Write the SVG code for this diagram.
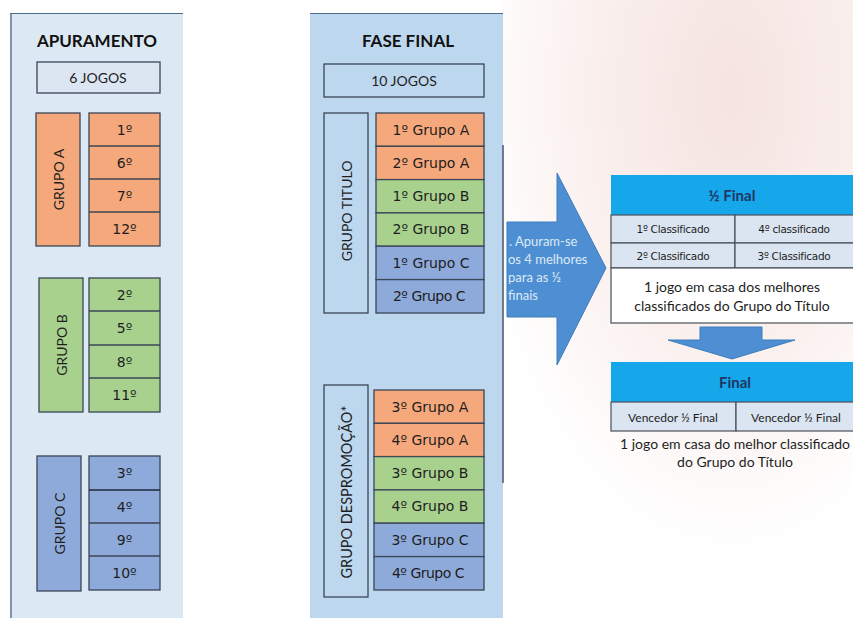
<svg xmlns="http://www.w3.org/2000/svg" width="853" height="618" viewBox="0 0 853 618">
<defs>
<radialGradient id="bgPink" cx="0.65" cy="0.15" r="0.75">
<stop offset="0" stop-color="#f5e3e0"/>
<stop offset="0.55" stop-color="#faf0ee"/>
<stop offset="1" stop-color="#ffffff"/>
</radialGradient>
<style>
.lbl{font-family:Lato,"Liberation Sans",sans-serif;fill:#1e1e1e;text-anchor:middle;dominant-baseline:central}
.ord{font-family:"DejaVu Sans","Liberation Sans",sans-serif;fill:#1e1e1e;text-anchor:middle;dominant-baseline:central}
.dv{font-family:"DejaVu Sans","Liberation Sans",sans-serif;fill:#1e1e1e;text-anchor:middle;dominant-baseline:central;font-size:14px}
.box{stroke:#3b4656;stroke-width:1.3}
.or{fill:#f5a87b}
.gr{fill:#a9d18e}
.bl{fill:#8eaadb}
.pale{fill:#dce6f2;stroke:#3b4656;stroke-width:1.3}
.hdr{fill:#16a6ea}
.row{fill:#dbe5f1;stroke:#4a4f58;stroke-width:1.2}
.ttl{font-family:Lato,"Liberation Sans",sans-serif;font-weight:bold;text-anchor:middle;dominant-baseline:central}
.sep{stroke:#3b4656;stroke-width:1.3}
</style>
</defs>
<rect x="0" y="0" width="853" height="618" fill="#ffffff"/>
<rect x="503" y="0" width="350" height="618" fill="url(#bgPink)"/>

<!-- Left panel -->
<g id="panel-apuramento">
<rect x="10" y="13" width="173" height="605" fill="#dce8f4"/>
<line x1="11" y1="13" x2="11" y2="618" stroke="#7f95ad" stroke-width="2"/>
<line x1="10" y1="13.5" x2="183" y2="13.5" stroke="#4f6b8a" stroke-width="1"/>
<text class="ttl" x="97" y="40" font-size="17" fill="#111">APURAMENTO</text>
</g>
<g id="jogos6">
<rect x="37" y="62" width="123" height="31" class="pale"/>
<text class="lbl" x="98" y="77" font-size="14">6 JOGOS</text>
</g>
<g id="grupoA">
<rect x="36" y="113" width="44" height="133" class="box or"/>
<text class="lbl" font-size="14" transform="translate(58,179.5) rotate(-90)">GRUPO A</text>
<rect x="89" y="113" width="71" height="133" class="box or"/>
<line x1="89" y1="146" x2="160" y2="146" class="sep"/>
<line x1="89" y1="179" x2="160" y2="179" class="sep"/>
<line x1="89" y1="212" x2="160" y2="212" class="sep"/>
<text class="ord" x="124.5" y="129.5" font-size="14">1º</text>
<text class="ord" x="124.5" y="162.5" font-size="14">6º</text>
<text class="ord" x="124.5" y="195.5" font-size="14">7º</text>
<text class="ord" x="124.5" y="229" font-size="14">12º</text>
</g>
<g id="grupoB">
<rect x="39" y="278" width="44" height="134" class="box gr"/>
<text class="lbl" font-size="14" transform="translate(61,345) rotate(-90)">GRUPO B</text>
<rect x="89" y="278" width="71" height="134" class="box gr"/>
<line x1="89" y1="311" x2="160" y2="311" class="sep"/>
<line x1="89" y1="345" x2="160" y2="345" class="sep"/>
<line x1="89" y1="378" x2="160" y2="378" class="sep"/>
<text class="ord" x="124.5" y="294.5" font-size="14">2º</text>
<text class="ord" x="124.5" y="328" font-size="14">5º</text>
<text class="ord" x="124.5" y="361.5" font-size="14">8º</text>
<text class="ord" x="124.5" y="395" font-size="14">11º</text>
</g>
<g id="grupoC">
<rect x="37" y="456" width="44" height="135" class="box bl"/>
<text class="lbl" font-size="14" transform="translate(59,523.5) rotate(-90)">GRUPO C</text>
<rect x="89" y="456" width="71" height="134" class="box bl"/>
<line x1="89" y1="490" x2="160" y2="490" stroke="#1f2a3a" stroke-width="1.6"/>
<line x1="89" y1="523" x2="160" y2="523" class="sep"/>
<line x1="89" y1="556" x2="160" y2="556" class="sep"/>
<text class="ord" x="124.5" y="472.5" font-size="14">3º</text>
<text class="ord" x="124.5" y="506.5" font-size="14">4º</text>
<text class="ord" x="124.5" y="539.5" font-size="14">9º</text>
<text class="ord" x="124.5" y="573" font-size="14">10º</text>
</g>

<!-- Middle panel -->
<g id="panel-fase-final">
<rect x="310" y="13" width="193" height="605" fill="#bdd7ee"/>
<line x1="310" y1="13.5" x2="503" y2="13.5" stroke="#4f6b8a" stroke-width="1"/>
<line x1="503" y1="145" x2="503" y2="483" stroke="#4a5668" stroke-width="1.5"/>
<text class="ttl" x="408" y="40" font-size="17" fill="#111">FASE FINAL</text>
</g>
<g id="jogos10">
<rect x="324" y="64" width="160" height="33" fill="#bdd7ee" class="box"/>
<text class="lbl" x="404" y="80.5" font-size="14">10 JOGOS</text>
</g>
<g id="grupo-titulo">
<rect x="324" y="113" width="44" height="200" fill="#bdd7ee" class="box"/>
<text class="lbl" font-size="14" transform="translate(346,211) rotate(-90)">GRUPO TITULO</text>
<rect x="376" y="113" width="108" height="33.3" class="box or"/>
<rect x="376" y="146.3" width="108" height="33.3" class="box or"/>
<rect x="376" y="179.6" width="108" height="33.3" class="box gr"/>
<rect x="376" y="212.9" width="108" height="33.3" class="box gr"/>
<rect x="376" y="246.2" width="108" height="33.4" class="box bl"/>
<rect x="376" y="279.6" width="108" height="33.4" class="box bl"/>
<text class="dv" x="431" y="129.5">1º Grupo A</text>
<text class="dv" x="431" y="162.8">2º Grupo A</text>
<text class="dv" x="431" y="196.1">1º Grupo B</text>
<text class="dv" x="431" y="229.4">2º Grupo B</text>
<text class="dv" x="431" y="262.8">1º Grupo C</text>
<text class="dv" x="429" y="296.2" letter-spacing="-0.5">2º Grupo C</text>
</g>
<g id="grupo-despromocao">
<rect x="324" y="385" width="44" height="212" fill="#bdd7ee" class="box"/>
<text class="lbl" font-size="14.5" transform="translate(346,492) rotate(-90)">GRUPO DESPROMOÇÃO*</text>
<rect x="374" y="390" width="110" height="33.3" class="box or"/>
<rect x="374" y="423.3" width="110" height="33.3" class="box or"/>
<rect x="374" y="456.6" width="110" height="33.3" class="box gr"/>
<rect x="374" y="489.9" width="110" height="33.3" class="box gr"/>
<rect x="374" y="523.2" width="110" height="33.4" class="box bl"/>
<rect x="374" y="556.6" width="110" height="33.4" class="box bl"/>
<text class="dv" x="430" y="406.5">3º Grupo A</text>
<text class="dv" x="430" y="439.8">4º Grupo A</text>
<text class="dv" x="430" y="473.1">3º Grupo B</text>
<text class="dv" x="430" y="506.4">4º Grupo B</text>
<text class="dv" x="430" y="539.8">3º Grupo C</text>
<text class="dv" x="428" y="573.2" letter-spacing="-0.5">4º Grupo C</text>
</g>

<!-- Connectors (block arrows) -->
<g id="connectors">
<polygon points="507,222 557,222 557,173 606,268 557,365 557,317 507,317" fill="#4d8fd2" stroke="#3f7dbd" stroke-width="1"/>
<g font-family="Lato,'Liberation Sans',sans-serif" font-size="13" fill="#dde9f7">
<text x="509" y="246">. Apuram-se</text>
<text x="508" y="264">os 4 melhores</text>
<text x="508" y="282">para as ½</text>
<text x="508" y="300">finais</text>
</g>
<polygon points="700,327 762,327 762,340 795,340 732,359 668,340 700,340" fill="#4d8fd2" stroke="#3f7dbd" stroke-width="1"/>
</g>

<!-- Semi-final -->
<g id="meia-final">
<rect x="611" y="175" width="245" height="40" class="hdr"/>
<text class="ttl" x="732" y="195" font-size="15" fill="#1f3864">½ Final</text>
<rect x="611" y="215" width="124" height="28" class="row"/>
<rect x="735" y="215" width="121" height="28" class="row"/>
<rect x="611" y="243" width="124" height="25" class="row"/>
<rect x="735" y="243" width="121" height="25" class="row"/>
<text class="ord" x="673" y="229" font-size="10.5" letter-spacing="-0.3">1º Classificado</text>
<text class="ord" x="794" y="229" font-size="10.5" letter-spacing="-0.3">4º classificado</text>
<text class="ord" x="673" y="255.5" font-size="10.5" letter-spacing="-0.3">2º Classificado</text>
<text class="ord" x="794" y="255.5" font-size="10.5" letter-spacing="-0.3">3º Classificado</text>
<rect x="611" y="268" width="245" height="55" fill="#ffffff" stroke="#4a4f58" stroke-width="1.2"/>
<text class="lbl" x="732" y="286" font-size="14">1 jogo em casa dos melhores</text>
<text class="lbl" x="732" y="305" font-size="14">classificados do Grupo do Título</text>
</g>

<!-- Final -->
<g id="final">
<rect x="611" y="362" width="245" height="40" class="hdr"/>
<text class="ttl" x="735" y="382" font-size="15" fill="#1f3864">Final</text>
<rect x="611" y="402" width="125" height="29" class="row"/>
<rect x="736" y="402" width="120" height="29" class="row"/>
<text class="lbl" x="673" y="417" font-size="12">Vencedor ½ Final</text>
<text class="lbl" x="796" y="417" font-size="12">Vencedor ½ Final</text>
<text class="lbl" x="735" y="443" font-size="14">1 jogo em casa do melhor classificado</text>
<text class="lbl" x="735" y="461" font-size="14">do Grupo do Título</text>
</g>
</svg>
